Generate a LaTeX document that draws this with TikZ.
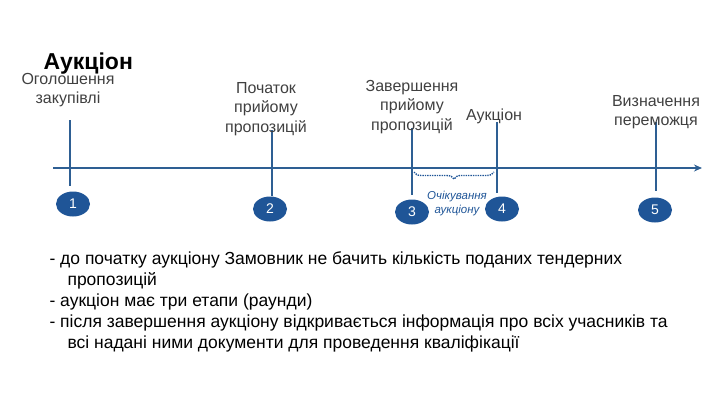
\documentclass[tikz,border=0pt]{standalone}
\usepackage{fontspec}
\setmainfont{Liberation Sans}
\usetikzlibrary{arrows.meta,decorations.pathreplacing,shapes.geometric}
\definecolor{ln}{HTML}{2E5F93}
\definecolor{bl}{HTML}{1F5597}
\begin{document}
\begin{tikzpicture}[x=1pt,y=-1pt,
  tick/.style={ln,line width=1.6pt},
  num/.style={ellipse,fill=bl,text=white,minimum width=34pt,minimum height=25pt,inner sep=0pt,font=\fontsize{14}{14}\selectfont},
  lab/.style={align=center,text=black!75,font=\fontsize{16}{19.5}\selectfont},
  body/.style={anchor=north west,align=left,font=\fontsize{17.5}{21}\selectfont}]
\useasboundingbox (0,0) rectangle (720,405);
\node[anchor=west,font=\bfseries\fontsize{23}{25}\selectfont] (t) at (40,64) {Аукціон};
\coordinate (s) at (53,168); \coordinate (e) at (702,168);
\draw[ln,line width=2.2pt,-{Stealth[length=8pt,width=7pt]}] (s) -- (e);
\foreach \n/\x/\a/\b/\ex/\ey in {1/70/120/186/73/204, 2/272/130/196/270/209, 3/412/128/195/412/212, 4/497/122/193/502/209, 5/656/122/191/655/210}{
  \coordinate (ta\n) at (\x,\a); \coordinate (tb\n) at (\x,\b);
  \draw[tick] (ta\n) -- (tb\n);
  \node[num] (n\n) at (\ex,\ey) {\n};
}
\node[lab] (l1) at (68,90) {Оголошення\\закупівлі};
\node[lab] (l2) at (266,109) {Початок\\прийому\\пропозицій};
\node[lab] (l3) at (412,107) {Завершення\\прийому\\пропозицій};
\node[lab] (l4) at (494,116) {Аукціон};
\node[lab] (l5) at (656,112) {Визначення\\переможця};
\draw[bl,densely dotted,line width=1.4pt,decorate,decoration={brace,mirror,amplitude=7pt}] (414,172) -- (494,172);
\node[lab,font=\itshape\fontsize{11.5}{14}\selectfont,text=bl] (w) at (457,204) {Очікування\\аукціону};
\node[body] (b) at (46,248) {- до початку аукціону Замовник не бачить кількість поданих тендерних\\\hspace*{18pt}пропозицій\\- аукціон має три етапи (раунди)\\- після завершення аукціону відкривається інформація про всіх учасників та\\\hspace*{18pt}всі надані ними документи для проведення кваліфікації};
\end{tikzpicture}
\end{document}
